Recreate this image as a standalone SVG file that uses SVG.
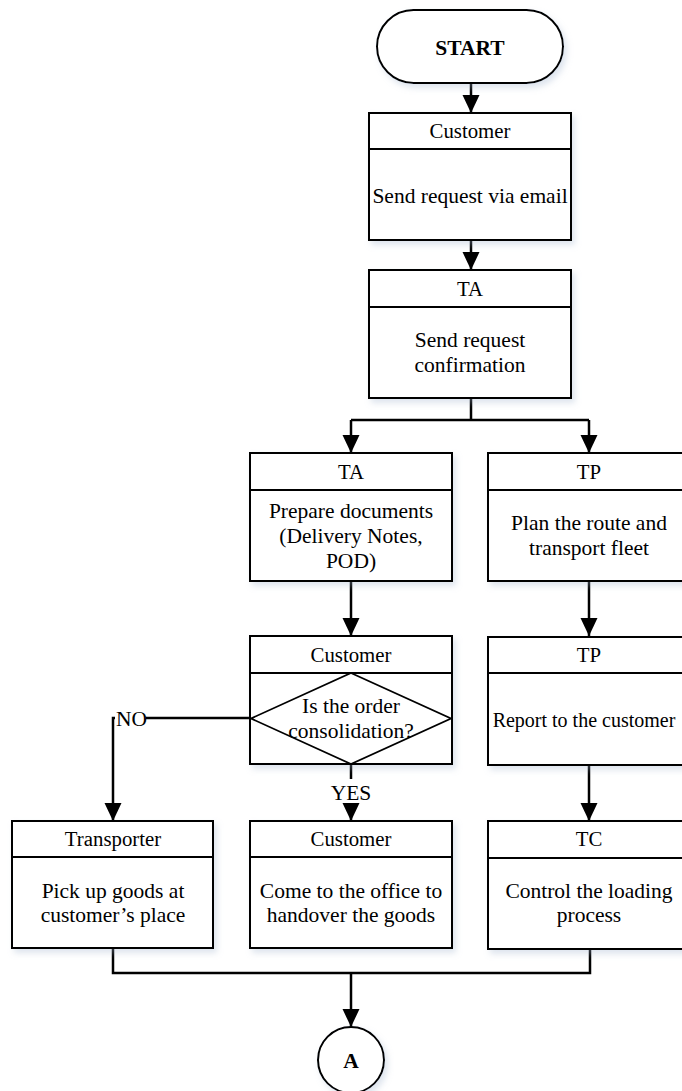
<svg xmlns="http://www.w3.org/2000/svg" width="682" height="1091" viewBox="0 0 682 1091">
  <defs>
    <style>
      .box { fill: #ffffff; stroke: #000000; stroke-width: 2; filter: url(#soft); }
      .sep { stroke: #000000; stroke-width: 2; }
      .dia { fill: none; stroke: #000000; stroke-width: 1.8; }
      .hd { font-family: "Liberation Serif", "Times New Roman", serif; font-size: 20.8px; fill: #000; text-anchor: middle; }
      .tx { font-family: "Liberation Serif", "Times New Roman", serif; font-size: 21.5px; fill: #000; text-anchor: middle; }
      .bold { font-weight: bold; }
      .conn { fill: none; stroke: #000000; stroke-width: 2.5; }
      .arrow { marker-end: url(#head); }
    </style>
    <filter id="soft" x="-10%" y="-10%" width="125%" height="130%">
      <feDropShadow dx="3" dy="4" stdDeviation="3" flood-color="#9fb3cf" flood-opacity="0.35"/>
    </filter>
    <marker id="head" markerUnits="userSpaceOnUse" markerWidth="18" markerHeight="18" refX="18" refY="8.5" orient="auto">
      <path d="M0,0 L18,8.5 L0,17 Z" fill="#000"/>
    </marker>
  </defs>

  <!-- connectors -->
  <g id="connectors">
    <path class="conn arrow" d="M471,83 V113"/>
    <path class="conn arrow" d="M471,240 V270"/>
    <path class="conn" d="M471,398 V420 M351,420 H589"/>
    <path class="conn arrow" d="M351,420 V453"/>
    <path class="conn arrow" d="M589,420 V453"/>
    <path class="conn arrow" d="M351,581 V636"/>
    <path class="conn arrow" d="M589,581 V636"/>
    <path class="conn arrow" d="M251,718 H113 V821"/>
    <path class="conn" d="M351,764 V779"/>
    <path class="conn arrow" d="M351,803 V821"/>
    <path class="conn arrow" d="M589,765 V821"/>
    <path class="conn" d="M113,948 V973 H590 V948"/>
    <path class="conn arrow" d="M351,973 V1027"/>
    <rect x="115" y="706" width="31" height="24" fill="#fff"/>
    <text class="tx" x="116" y="726" style="text-anchor:start">NO</text>
    <text class="tx" x="351" y="800">YES</text>
  </g>

  <g id="start">
    <rect class="box" x="377" y="10" width="186" height="73" rx="36.5"/>
    <text class="tx bold" x="470" y="55">START</text>
  </g>

  <g id="customer-request">
    <rect class="box" x="369" y="113" width="202" height="127"/>
    <line class="sep" x1="369" y1="149" x2="571" y2="149"/>
    <text class="hd" x="470" y="138">Customer</text>
    <text class="tx" x="470" y="203">Send request via email</text>
  </g>

  <g id="ta-confirm">
    <rect class="box" x="369" y="270" width="202" height="128"/>
    <line class="sep" x1="369" y1="307" x2="571" y2="307"/>
    <text class="hd" x="470" y="296">TA</text>
    <text class="tx" x="470" y="347">Send request</text>
    <text class="tx" x="470" y="372">confirmation</text>
  </g>

  <g id="ta-documents">
    <rect class="box" x="250" y="453" width="202" height="128"/>
    <line class="sep" x1="250" y1="490" x2="452" y2="490"/>
    <text class="hd" x="351" y="479">TA</text>
    <text class="tx" x="351" y="518">Prepare documents</text>
    <text class="tx" x="351" y="543">(Delivery Notes,</text>
    <text class="tx" x="351" y="568">POD)</text>
  </g>

  <g id="tp-plan">
    <rect class="box" x="488" y="453" width="202" height="128"/>
    <line class="sep" x1="488" y1="490" x2="690" y2="490"/>
    <text class="hd" x="589" y="479">TP</text>
    <text class="tx" x="589" y="530">Plan the route and</text>
    <text class="tx" x="589" y="555">transport fleet</text>
  </g>

  <g id="customer-decision">
    <rect class="box" x="250" y="636" width="202" height="128"/>
    <line class="sep" x1="250" y1="673" x2="452" y2="673"/>
    <text class="hd" x="351" y="662">Customer</text>
    <polygon class="dia" points="351,673 451,718.5 351,764 251,718.5"/>
    <text class="tx" x="351" y="713">Is the order</text>
    <text class="tx" x="351" y="738">consolidation?</text>
  </g>

  <g id="tp-report">
    <rect class="box" x="488" y="637" width="202" height="128"/>
    <line class="sep" x1="488" y1="673" x2="690" y2="673"/>
    <text class="hd" x="589" y="662">TP</text>
    <text class="tx" x="584" y="727" style="font-size:20px">Report to the customer</text>
  </g>

  <g id="transporter-pickup">
    <rect class="box" x="12" y="821" width="201" height="127"/>
    <line class="sep" x1="12" y1="857" x2="213" y2="857"/>
    <text class="hd" x="113" y="846">Transporter</text>
    <text class="tx" x="113" y="898">Pick up goods at</text>
    <text class="tx" x="113" y="922">customer’s place</text>
  </g>

  <g id="customer-handover">
    <rect class="box" x="250" y="821" width="202" height="127"/>
    <line class="sep" x1="250" y1="857" x2="452" y2="857"/>
    <text class="hd" x="351" y="846">Customer</text>
    <text class="tx" x="351" y="898">Come to the office to</text>
    <text class="tx" x="351" y="922">handover the goods</text>
  </g>

  <g id="tc-loading">
    <rect class="box" x="488" y="821" width="202" height="128"/>
    <line class="sep" x1="488" y1="858" x2="690" y2="858"/>
    <text class="hd" x="589" y="846">TC</text>
    <text class="tx" x="589" y="898">Control the loading</text>
    <text class="tx" x="589" y="922">process</text>
  </g>

  <g id="connector-a">
    <circle class="box" cx="351" cy="1060" r="33"/>
    <text class="tx bold" x="351" y="1068">A</text>
  </g>
</svg>
